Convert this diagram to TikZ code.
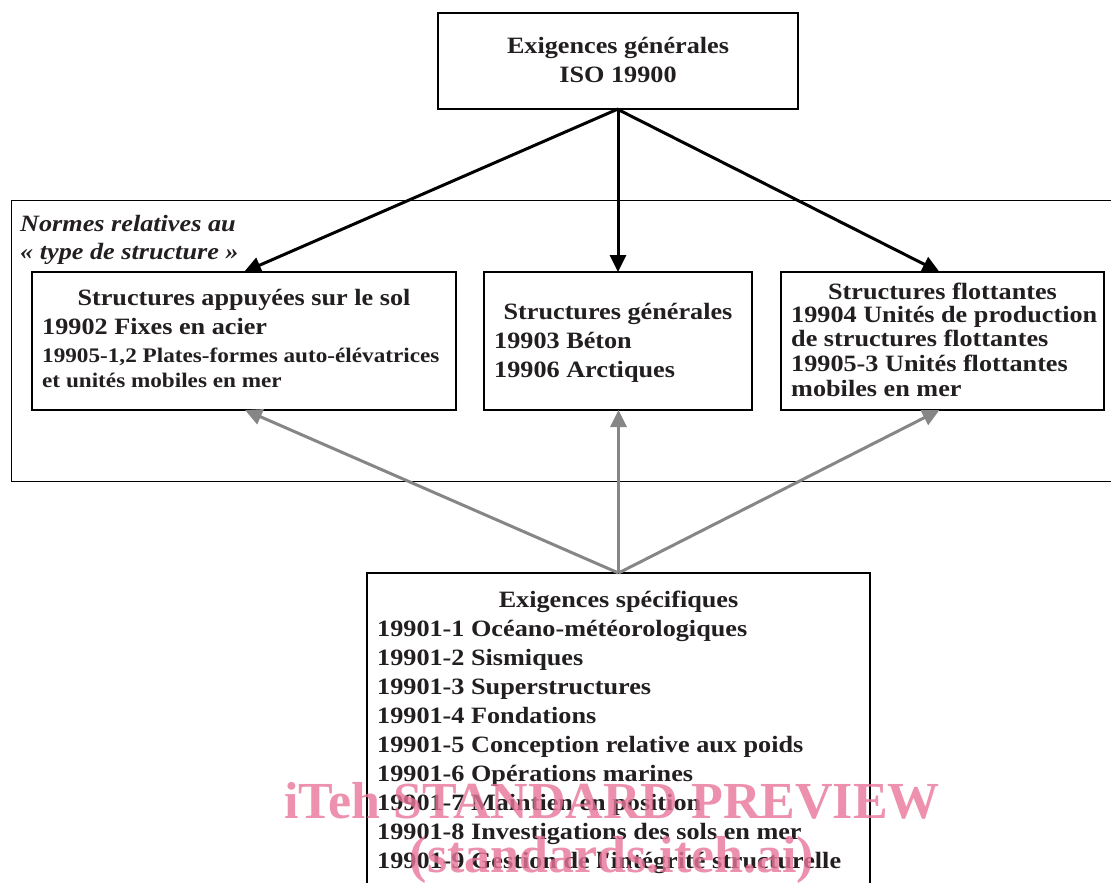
\documentclass[tikz,border=0pt]{standalone}
\usepackage{fontspec}
\setmainfont{Liberation Serif}
\newfontfamily\wfont[FakeStretch=1.12]{Liberation Serif}
\newfontfamily\plainfont{Liberation Serif}
\usetikzlibrary{arrows.meta}
\definecolor{txt}{HTML}{231F20}
\definecolor{wm}{HTML}{E8759A}
\tikzset{
  box/.style={draw=black, line width=2.2pt, fill=white, inner sep=0pt, outer sep=0pt},
  frame/.style={draw=black, line width=0.8pt},
  btxt/.style={font=\wfont\bfseries\fontsize{23.4}{28}\selectfont, text=txt, inner sep=0pt, anchor=base west},
  ctxt/.style={font=\wfont\bfseries\fontsize{23.4}{28}\selectfont, text=txt, inner sep=0pt, anchor=base},
  stxt/.style={font=\wfont\bfseries\fontsize{20.7}{24}\selectfont, text=txt, inner sep=0pt, anchor=base west},
  itxt/.style={font=\wfont\bfseries\itshape\fontsize{23.4}{28}\selectfont, text=txt, inner sep=0pt, anchor=base west},
  blk/.style={draw=black, line width=3pt, -{Triangle[length=17pt,width=16pt]}},
  gry/.style={draw=gray!95, line width=3pt, -{Triangle[length=17pt,width=16pt]}},
  wmk/.style={font=\plainfont\bfseries\fontsize{52}{60}\selectfont, text=wm, opacity=0.8, inner sep=0pt, anchor=base}
}
\begin{document}
\begin{tikzpicture}[x=1pt,y=-1pt]
\useasboundingbox (0,0) rectangle (1111,883);
% outer frame
\draw[frame] (11,200) rectangle (1130,481);
\node[itxt] (n1) at (20,231) {Normes relatives au};
\node[itxt] (n2) at (20,259) {« type de structure »};
% top box
\node[box, minimum width=360pt, minimum height=96pt] (top) at (618,61) {};
\node[ctxt] (t1) at (618,54) {Exigences générales};
\node[ctxt] (t2) at (618,82) {ISO 19900};
% three boxes
\node[box, minimum width=424pt, minimum height=138pt] (b1) at (244,341) {};
\node[ctxt] (b1a) at (244,305) {Structures appuyées sur le sol};
\node[btxt] (b1b) at (42,334) {19902 Fixes en acier};
\node[stxt] (b1c) at (42,362) {19905-1,2 Plates-formes auto-élévatrices};
\node[stxt] (b1d) at (42,387) {et unités mobiles en mer};
\node[box, minimum width=268pt, minimum height=138pt] (b2) at (618,341) {};
\node[ctxt] (b2a) at (618,319) {Structures générales};
\node[btxt] (b2b) at (494,348) {19903 Béton};
\node[btxt] (b2c) at (494,377) {19906 Arctiques};
\node[box, minimum width=323pt, minimum height=138pt] (b3) at (942.5,341) {};
\node[ctxt] (b3a) at (942.5,299) {Structures flottantes};
\node[btxt] (b3b) at (791,322) {19904 Unités de production};
\node[btxt] (b3c) at (791,346) {de structures flottantes};
\node[btxt] (b3d) at (791,371) {19905-3 Unités flottantes};
\node[btxt] (b3e) at (791,396) {mobiles en mer};
% bottom box
\node[box, minimum width=503pt, minimum height=330pt] (bot) at (618.5,738) {};
\node[ctxt] (s0) at (618.5,607) {Exigences spécifiques};
\foreach \i/\t [count=\k from 0] in {1/Océano-météorologiques,2/Sismiques,3/Superstructures,4/Fondations,5/Conception relative aux poids,6/Opérations marines,7/Maintien en position,8/Investigations des sols en mer,9/Gestion de l'intégrité structurelle}
  \node[btxt] (s\i) at (377,636+29*\k) {19901-\i\ \t};
% arrows
\draw[blk] (top.south) -- (b1.north);
\draw[blk] (top.south) -- (b2.north);
\draw[blk] ([xshift=-1pt]top.south) -- ([xshift=-3pt]b3.north);
\draw[gry] (bot.north) -- ([xshift=1pt]b1.south);
\draw[gry] (bot.north) -- ([xshift=0.5pt]b2.south);
\draw[gry] (bot.north) -- ([xshift=-3pt]b3.south);
% watermark
\node[wmk] (w1) at (612,818) {iTeh STANDARD PREVIEW};
\node[wmk] (w2) at (612,872) {(standards.iteh.ai)};
\end{tikzpicture}
\end{document}
